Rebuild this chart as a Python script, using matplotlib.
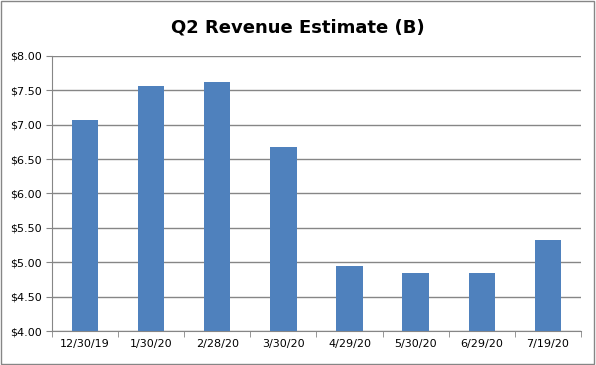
import numpy as np
import matplotlib.pyplot as plt
from matplotlib.ticker import FuncFormatter

dates = ["12/30/19", "1/30/20", "2/28/20", "3/30/20", "4/29/20", "5/30/20", "6/29/20", "7/19/20"]
revenue = [7.07, 7.56, 7.62, 6.67, 4.95, 4.84, 4.84, 5.32]

fig = plt.figure(figsize=(5.96, 3.65), dpi=100)
ax = fig.add_axes([0.087, 0.093, 0.888, 0.754])

x = np.arange(len(dates))
ax.bar(x, revenue, width=0.4, color="#4F81BD", zorder=3)

ax.set_ylim(4, 8)
ax.set_xlim(-0.5, len(dates) - 0.5)
ax.set_yticks(np.arange(4, 8.01, 0.5))
ax.yaxis.set_major_formatter(FuncFormatter(lambda v, p: f"${v:.2f}"))
ax.grid(axis="y", color="#868686", linewidth=1, zorder=0)

ax.set_xticks(x)
ax.set_xticklabels(dates)
ax.set_xticks(np.arange(-0.5, len(dates)), minor=True)
ax.tick_params(axis="x", which="major", length=0, labelsize=8, pad=6)
ax.tick_params(axis="x", which="minor", length=4, color="#868686")
ax.tick_params(axis="y", length=4, color="#868686", labelsize=8)

for s in ["top", "right"]:
    ax.spines[s].set_visible(False)
for s in ["left", "bottom"]:
    ax.spines[s].set_color("#868686")

fig.text(0.5, 0.925, "Q2 Revenue Estimate (B)", ha="center", va="center",
         fontsize=13, fontweight="bold")

fig.patches.append(plt.Rectangle((0.002, 0.003), 0.995, 0.994, transform=fig.transFigure,
                                 fill=False, edgecolor="#868686", linewidth=1))

fig.savefig("out.png", dpi=100)
